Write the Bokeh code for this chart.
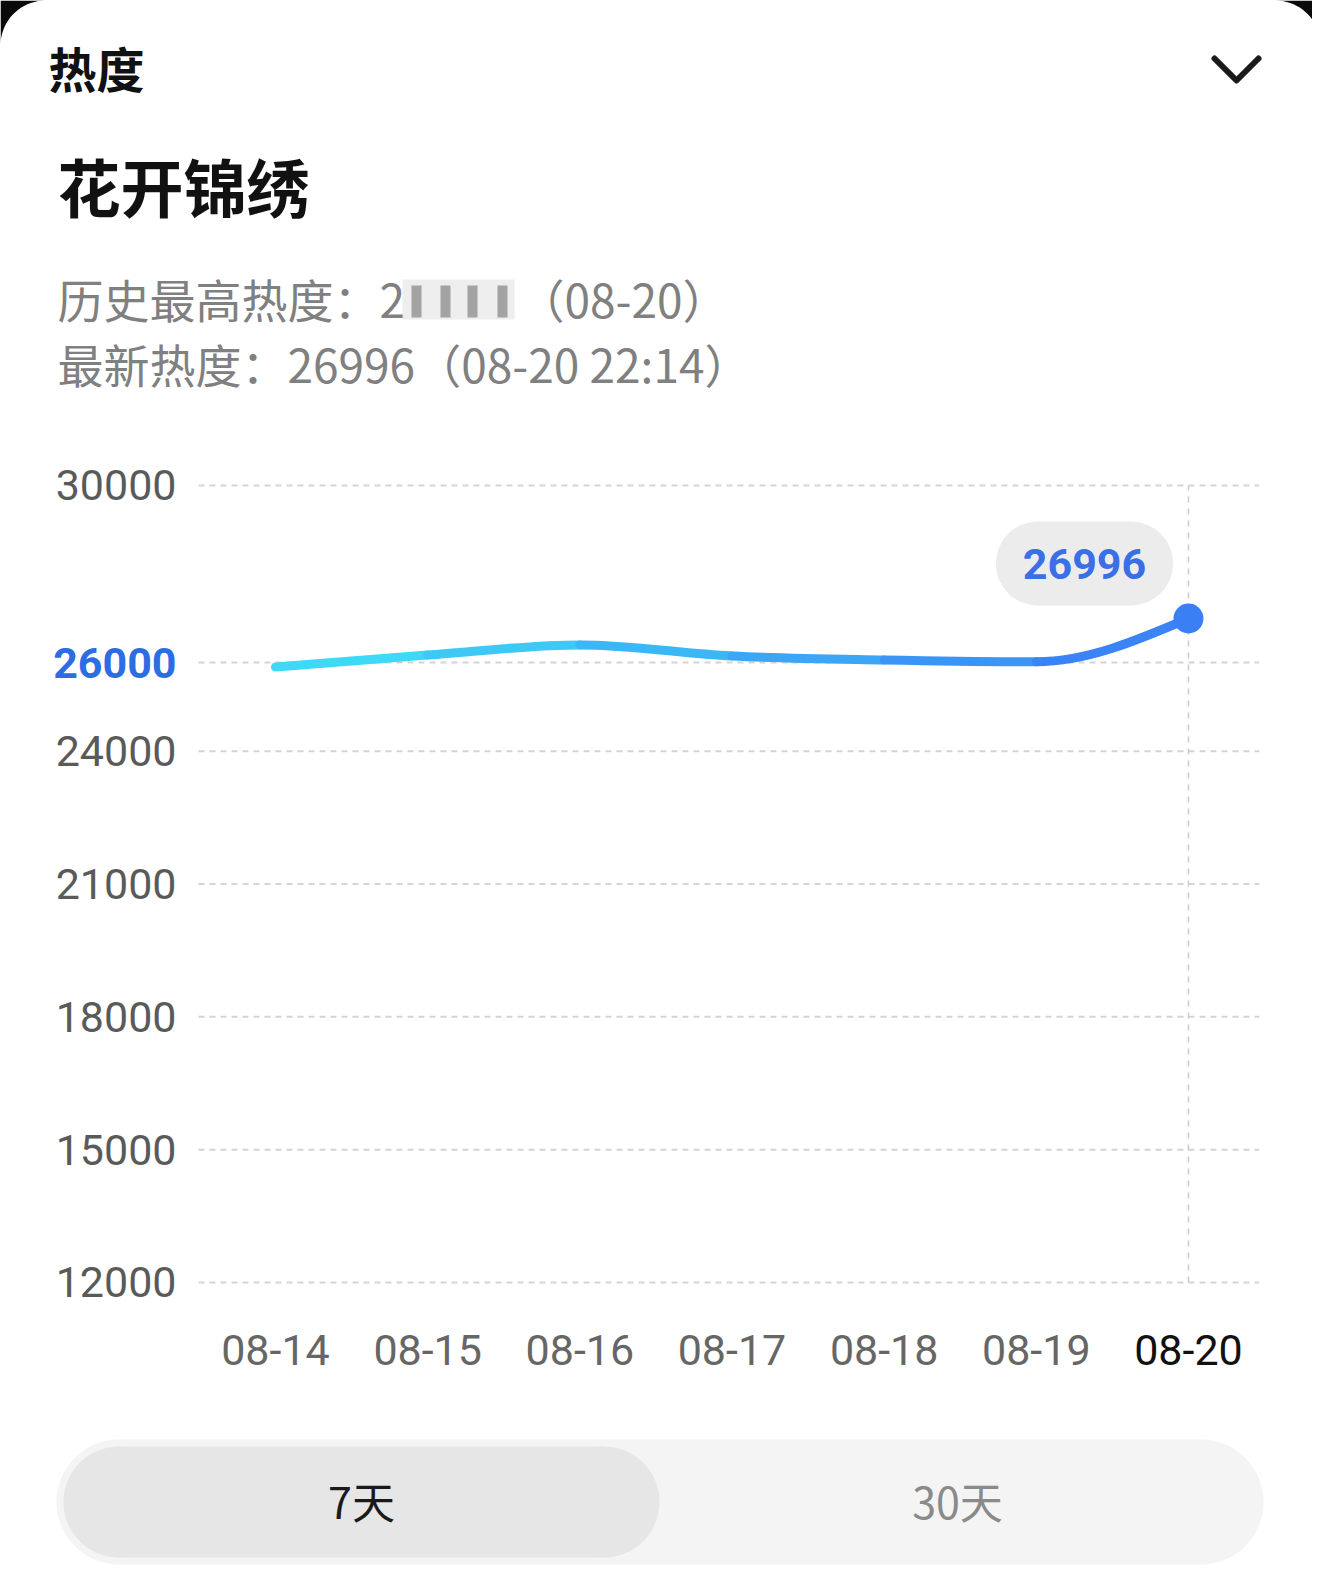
import numpy as np
from bokeh.plotting import figure
from bokeh.models import Range1d, Label, LabelSet, ColumnDataSource
from bokeh.layouts import column
from bokeh.core.properties import value
from bokeh.embed import file_html
from bokeh.resources import INLINE

# ---------------- data ----------------
dates = ["08-14", "08-15", "08-16", "08-17", "08-18", "08-19", "08-20"]
heat = [25900, 26170, 26400, 26150, 26060, 26020, 26996]
y_ticks = [12000, 15000, 18000, 21000, 24000, 26000, 30000]
y_tick_labels = ["12000", "15000", "18000", "21000", "24000", "26000", "30000"]
highlight_tick = 26000
title_top = "热度"
title_main = "花开锦绣"
hist_prefix = "历史最高热度：2"
hist_suffix = "（08-20）"
latest_text = "最新热度：26996（08-20 22:14）"
range_options = ["7天", "30天"]

CJK = value("Noto Sans CJK SC")
NUM = value("Roboto")
W = 1312


def blank(fig):
    fig.axis.visible = False
    fig.grid.visible = False
    fig.outline_line_color = None
    fig.background_fill_color = "white"
    fig.border_fill_color = "white"


# ---------------- header (page-pixel coordinates) ----------------
h = figure(width=W, height=430, x_range=Range1d(0, W), y_range=Range1d(430, 0),
           output_backend="svg", toolbar_location=None, min_border=0)
blank(h)

r = 45
ang = np.linspace(np.pi, 1.5 * np.pi, 20)
cx = list(r + r * np.cos(ang)) + [0]
cy = list(r + r * np.sin(ang)) + [0]
h.patch(cx, cy, fill_color="#0a0a0a", line_color=None)
h.patch([1320 - v for v in cx], cy, fill_color="#0a0a0a", line_color=None)

h.line([1214, 1236, 1258], [58, 80, 58], line_color="#1a1a1a", line_width=6,
       line_cap="round", line_join="round")

h.text(x=[48], y=[66], text=[title_top], text_font=CJK, text_font_size="48px",
       text_font_style="bold", text_color="#111111", text_baseline="middle")
h.text(x=[57], y=[184], text=[title_main], text_font=CJK, text_font_size="63px",
       text_font_style="bold", text_color="#111111", text_baseline="middle")
h.text(x=[57], y=[297], text=[hist_prefix], text_font=CJK, text_font_size="46px",
       text_color="#808080", text_baseline="middle")
h.rect(x=[458], y=[299], width=112, height=40, fill_color="#dddddd", fill_alpha=0.5,
       line_color=None)
h.rect(x=[416, 445, 472, 502], y=[301] * 4, width=10, height=32, fill_color="#8a8a8a",
       fill_alpha=0.75, line_color=None)
h.text(x=[518], y=[297], text=[hist_suffix], text_font=CJK, text_font_size="46px",
       text_color="#808080", text_baseline="middle")
h.text(x=[57], y=[362], text=[latest_text], text_font=CJK, text_font_size="46px",
       text_color="#808080", text_baseline="middle")

# ---------------- chart ----------------
# plot area: x index -0.506..6.465 (grid extent), value 12000..30000
gx0, gx1 = -0.506, 6.465
c = figure(width=W, height=970, x_range=Range1d(-1.8072, 6.815), y_range=Range1d(9335, 31242),
           output_backend="svg", toolbar_location=None, min_border=0)
blank(c)

c.segment(x0=[gx0] * len(y_ticks), x1=[gx1] * len(y_ticks), y0=y_ticks, y1=y_ticks,
          line_color="#d4d4d4", line_dash="6 5", line_width=2)

xs = np.arange(len(dates), dtype=float)
ys = np.array(heat, dtype=float)
n = len(xs)

c.segment(x0=[xs[-1]], x1=[xs[-1]], y0=[y_ticks[0]], y1=[y_ticks[-1]],
          line_color="#cccccc", line_dash="6 6", line_width=1.5)

# smooth (monotone cubic) curve segments
hh = np.diff(xs)
s = np.diff(ys) / hh
t = np.zeros(n)
for i in range(1, n - 1):
    s0, s1 = s[i - 1], s[i]
    if s0 * s1 > 0:
        p = (s0 * hh[i] + s1 * hh[i - 1]) / (hh[i - 1] + hh[i])
        t[i] = (np.sign(s0) + np.sign(s1)) * min(abs(s0), abs(s1), 0.5 * abs(p))
t[0] = (3 * s[0] - t[1]) / 2
t[-1] = (3 * s[-1] - t[-2]) / 2

c_start = np.array([62, 226, 246])
c_end = np.array([58, 124, 245])
seg_colors = []
for i in range(n - 1):
    f = (i + 0.5) / (n - 1)
    rgb = (c_start * (1 - f) + c_end * f).astype(int)
    seg_colors.append("#%02x%02x%02x" % tuple(rgb))

bsrc = ColumnDataSource(dict(
    x0=xs[:-1], y0=ys[:-1], x1=xs[1:], y1=ys[1:],
    cx0=xs[:-1] + hh / 3, cy0=ys[:-1] + hh * t[:-1] / 3,
    cx1=xs[1:] - hh / 3, cy1=ys[1:] - hh * t[1:] / 3,
    color=seg_colors))
c.bezier(x0="x0", y0="y0", x1="x1", y1="y1", cx0="cx0", cy0="cy0", cx1="cx1", cy1="cy1",
         source=bsrc, line_color="color", line_width=9, line_cap="round")
c.scatter(x=[xs[-1]], y=[heat[-1]], size=30, fill_color="#3b7ff5", line_color=None)

c.add_layout(Label(x=xs[-1], y=heat[-1], x_offset=-104, y_offset=55, text=str(heat[-1]),
                   text_align="center", text_baseline="middle", text_color="#3a6fe6",
                   text_font="Roboto", text_font_size="43px", text_font_style="bold",
                   background_fill_color="#ececec", border_radius=42, padding=27))

ysrc = ColumnDataSource(dict(
    x=[gx0] * len(y_ticks), y=y_ticks, text=y_tick_labels,
    color=["#2d6de3" if v == highlight_tick else "#5a5a5a" for v in y_ticks],
    style=["bold" if v == highlight_tick else "normal" for v in y_ticks]))
c.add_layout(LabelSet(x="x", y="y", text="text", source=ysrc, x_offset=-22,
                      text_align="right", text_baseline="middle", text_color="color",
                      text_font_style="style", text_font=NUM, text_font_size="43px"))

xsrc = ColumnDataSource(dict(
    x=xs, y=[y_ticks[0]] * n, text=dates,
    color=["#666666"] * (n - 1) + ["#111111"]))
c.add_layout(LabelSet(x="x", y="y", text="text", source=xsrc, y_offset=-68,
                      text_align="center", text_baseline="middle", text_color="color",
                      text_font=NUM, text_font_size="43px"))

# ---------------- footer (page-pixel coordinates) ----------------
ft = figure(width=W, height=187, x_range=Range1d(0, W), y_range=Range1d(1587, 1400),
            output_backend="svg", toolbar_location=None, min_border=0)
blank(ft)


def pill(fig, x0, x1, y0, y1, color):
    rr = (y1 - y0) / 2
    yc = (y0 + y1) / 2
    fig.quad(left=[x0 + rr], right=[x1 - rr], top=[y0], bottom=[y1], fill_color=color,
             line_color=None)
    fig.circle(x=[x0 + rr, x1 - rr], y=[yc, yc], radius=rr, fill_color=color, line_color=None)


pill(ft, 56, 1263, 1439, 1564, "#f4f4f4")
pill(ft, 63, 659, 1446, 1557, "#e6e6e6")
ft.text(x=[361, 957], y=[1499, 1499], text=range_options, text_font=CJK,
        text_font_size="43px", text_color=["#1a1a1a", "#8a8a8a"],
        text_align="center", text_baseline="middle")

layout = column(h, c, ft)
open("out.html", "w").write(file_html(layout, INLINE))
